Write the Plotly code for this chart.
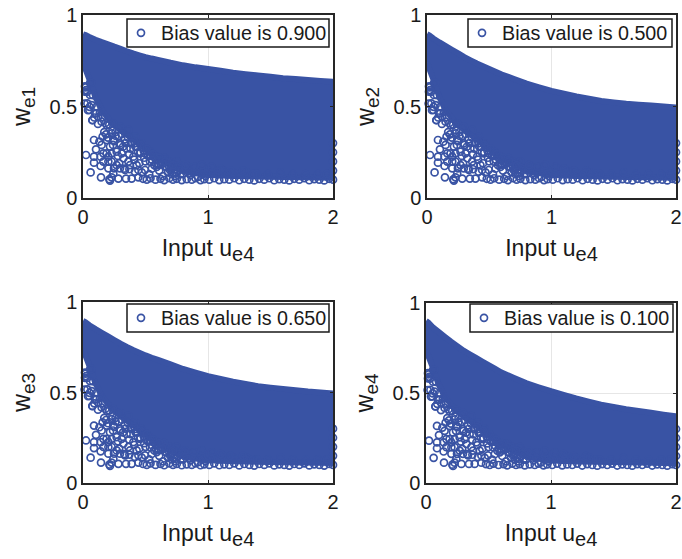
import plotly.graph_objects as go

COLOR = "#3953a4"
FONT = "Liberation Sans, Arial, sans-serif"
TEXT = "#1a1a1a"

bias_labels = ["Bias value is 0.900", "Bias value is 0.500", "Bias value is 0.650", "Bias value is 0.100"]
y_titles = ["e1", "e2", "e3", "e4"]
x_ticks = [0, 1, 2]
y_ticks = [0, 0.5, 1]
y_tick_text = ["0", "0.5", "1"]

# upper envelope of the point cloud, read per panel
env_x = [0, 0.02, 0.05, 0.1, 0.15, 0.2, 0.25, 0.3, 0.35, 0.4, 0.45, 0.5, 0.55, 0.6, 0.7, 0.8, 0.9, 1.0, 1.1, 1.2, 1.3, 1.4, 1.5, 1.6, 1.7, 1.8, 1.9, 2.0]
env_e1 = [0.895, 0.89, 0.88, 0.865, 0.852, 0.84, 0.827, 0.815, 0.802, 0.79, 0.78, 0.77, 0.762, 0.755, 0.739, 0.725, 0.714, 0.705, 0.695, 0.685, 0.677, 0.67, 0.662, 0.655, 0.65, 0.645, 0.64, 0.635]
env_e2 = [0.895, 0.888, 0.872, 0.85, 0.83, 0.81, 0.79, 0.77, 0.752, 0.735, 0.72, 0.705, 0.69, 0.675, 0.65, 0.625, 0.605, 0.585, 0.57, 0.555, 0.542, 0.53, 0.522, 0.515, 0.51, 0.505, 0.5, 0.495]
env_e3 = [0.895, 0.888, 0.872, 0.85, 0.83, 0.81, 0.79, 0.77, 0.752, 0.735, 0.72, 0.705, 0.692, 0.68, 0.655, 0.63, 0.61, 0.59, 0.575, 0.56, 0.547, 0.535, 0.527, 0.52, 0.512, 0.505, 0.5, 0.495]
env_e4 = [0.90, 0.89, 0.868, 0.84, 0.812, 0.785, 0.76, 0.735, 0.715, 0.695, 0.675, 0.655, 0.635, 0.615, 0.585, 0.555, 0.532, 0.51, 0.49, 0.47, 0.452, 0.435, 0.422, 0.41, 0.4, 0.39, 0.38, 0.37]

# lower edge of the solid part of the cloud
low_x = [2.0, 1.6, 1.2, 1.0, 0.85, 0.72, 0.6, 0.5, 0.4, 0.3, 0.22, 0.15, 0.1, 0.05, 0.0]
low_y = [0.11, 0.115, 0.12, 0.125, 0.14, 0.17, 0.22, 0.27, 0.32, 0.37, 0.42, 0.48, 0.55, 0.65, 0.74]

# individually visible circles below the solid part (same in all panels)
sparse_x = [0.024, 0.061, 0.144, 0.211, 0.229, 0.283, 0.344, 0.389, 0.216, 0.088, 0.131, 0.157, 0.104, 0.088,
            0.141, 0.088, 0.141, 0.203, 0.229, 0.203, 0.248, 0.243, 0.184, 0.149, 0.216, 0.269, 0.309, 0.323,
            0.363, 0.371, 0.416, 0.443, 0.075, 0.035, 0.069, 0.051, 0.024, 0.056, 0.016, 0.09, 0.12, 0.17,
            0.2, 0.25, 0.3, 0.34, 0.38, 0.28, 0.33, 0.41, 0.45, 0.5, 0.47, 0.53, 0.57, 0.61, 0.64, 0.68, 0.74,
            0.78, 0.42, 0.37, 0.29, 0.24, 0.46, 0.52, 0.55, 0.6, 0.66, 0.7, 0.76, 0.8, 0.86, 0.92, 0.98,
            0.48, 0.51, 0.54, 0.58, 0.62, 0.65, 0.69, 0.72, 0.75, 0.79, 0.83, 0.87, 0.9, 0.94, 0.97, 1.01,
            1.05, 1.09, 1.13, 1.17, 1.21, 1.25, 1.29, 1.33, 1.37, 1.41, 1.45, 1.49, 1.53, 1.57, 1.61, 1.65,
            1.69, 1.73, 1.77, 1.81, 1.85, 1.89, 1.93, 1.97, 2.0, 2.0, 2.0, 2.0, 2.0,
            0.163, 0.189, 0.229, 0.243, 0.296, 0.349, 0.416, 0.456, 0.496, 0.536, 0.563, 0.603, 0.403, 0.429,
            0.376, 0.443, 0.496, 0.336, 0.296, 0.269, 0.229, 0.189, 0.163, 0.203, 0.096, 0.123, 0.149, 0.189,
            0.243, 0.296, 0.363, 0.416, 0.469, 0.536, 0.589, 0.643, 0.696, 0.749, 0.056, 0.016,
            0.021, 0.067, 0.032, 0.08, 0.013, 0.053, 0.04, 0.075, 0.107,
            0.62, 0.67, 0.71, 0.73, 0.77, 0.81, 0.84, 0.88, 0.93, 0.96, 1.0, 1.04, 1.08, 1.12, 1.16, 1.2, 1.26, 1.31, 1.36,
            0.65, 0.69, 0.75, 0.82, 0.89, 0.95, 1.03, 1.1, 1.18, 1.28, 1.39, 1.48, 1.58, 1.68, 1.78, 1.88, 1.95,
            0.11, 0.135, 0.16, 0.18, 0.21, 0.235, 0.26, 0.285, 0.31, 0.335, 0.36, 0.385, 0.41, 0.435, 0.46, 0.485,
            0.51, 0.535, 0.56, 0.585, 0.61, 0.635, 0.66, 0.69, 0.72, 0.26, 0.32, 0.39, 0.44, 0.49, 0.55, 0.59]
sparse_y = [0.235, 0.14, 0.113, 0.102, 0.113, 0.106, 0.106, 0.106, 0.095, 0.317, 0.308, 0.335, 0.266, 0.226,
            0.226, 0.193, 0.175, 0.226, 0.199, 0.162, 0.162, 0.135, 0.348, 0.29, 0.281, 0.253, 0.244, 0.217,
            0.199, 0.157, 0.144, 0.113, 0.426, 0.517, 0.508, 0.481, 0.59, 0.628, 0.61, 0.44, 0.405, 0.36,
            0.33, 0.31, 0.29, 0.3, 0.27, 0.23, 0.16, 0.21, 0.19, 0.2, 0.14, 0.13, 0.18, 0.15, 0.12, 0.14, 0.12,
            0.13, 0.28, 0.24, 0.19, 0.29, 0.25, 0.23, 0.16, 0.19, 0.17, 0.16, 0.15, 0.13, 0.125, 0.115, 0.12,
            0.105, 0.1, 0.108, 0.1, 0.105, 0.098, 0.108, 0.1, 0.105, 0.098, 0.103, 0.1, 0.108, 0.098, 0.103, 0.1,
            0.108, 0.098, 0.103, 0.1, 0.108, 0.097, 0.105, 0.1, 0.096, 0.105, 0.1, 0.108, 0.097, 0.103, 0.1, 0.096,
            0.105, 0.1, 0.108, 0.097, 0.103, 0.1, 0.096, 0.105, 0.1, 0.15, 0.2, 0.25, 0.3,
            0.244, 0.317, 0.353, 0.317, 0.299, 0.271, 0.299, 0.244, 0.244, 0.199, 0.226, 0.18, 0.226, 0.18,
            0.18, 0.153, 0.153, 0.153, 0.162, 0.18, 0.244, 0.244, 0.199, 0.199, 0.463, 0.444, 0.417, 0.399,
            0.408, 0.39, 0.372, 0.335, 0.299, 0.253, 0.226, 0.189, 0.153, 0.135, 0.563, 0.581,
            0.604, 0.63, 0.58, 0.562, 0.516, 0.498, 0.48, 0.425, 0.462,
            0.19, 0.17, 0.13, 0.18, 0.16, 0.15, 0.17, 0.14, 0.15, 0.13, 0.15, 0.14, 0.13, 0.15, 0.13, 0.14, 0.13, 0.14, 0.13,
            0.22, 0.2, 0.2, 0.18, 0.17, 0.18, 0.17, 0.16, 0.15, 0.15, 0.13, 0.13, 0.14, 0.13, 0.13, 0.13, 0.13,
            0.5, 0.47, 0.44, 0.41, 0.4, 0.37, 0.36, 0.34, 0.35, 0.32, 0.33, 0.3, 0.31, 0.28, 0.29, 0.26,
            0.27, 0.23, 0.24, 0.21, 0.22, 0.19, 0.2, 0.17, 0.18, 0.34, 0.28, 0.3, 0.25, 0.22, 0.21, 0.17]

# panel placement, in pixels of the 682x559 page
W, H = 682, 559
panels = [
    dict(env=env_e1, x0=83, x1=333, top=15, bottom=198, bx0=127, bx1=329, by0=19, by1=47),
    dict(env=env_e2, x0=427, x1=676, top=15, bottom=198, bx0=468, bx1=672, by0=19, by1=47),
    dict(env=env_e3, x0=83, x1=333, top=302, bottom=483, bx0=127, bx1=329, by0=304, by1=332),
    dict(env=env_e4, x0=426, x1=676, top=303, bottom=483, bx0=470, bx1=673, by0=304, by1=332),
]

fig = go.Figure()
layout = dict(width=W, height=H, margin=dict(l=0, r=0, t=0, b=0, autoexpand=False), autosize=False,
              paper_bgcolor="white", plot_bgcolor="white", font=dict(family=FONT, size=20, color=TEXT))
shapes = []

for i, p in enumerate(panels):
    n = i + 1
    s = "" if n == 1 else str(n)
    xa, ya = "x" + s, "y" + s
    leg = "legend" + s
    fig.add_trace(go.Scatter(
        x=env_x + low_x, y=p["env"] + low_y, xaxis=xa, yaxis=ya, mode="lines", fill="toself",
        fillcolor=COLOR, line=dict(color=COLOR, width=6, simplify=False), showlegend=False,
        cliponaxis=False, hoverinfo="skip"))
    fig.add_trace(go.Scatter(
        x=sparse_x, y=sparse_y, xaxis=xa, yaxis=ya, mode="markers", name=bias_labels[i], legend=leg,
        marker=dict(symbol="circle-open", size=7, color=COLOR, line=dict(width=1.7, color=COLOR)),
        cliponaxis=False))
    axis_common = dict(showline=True, linecolor="#262626", linewidth=1.5, mirror="ticks", ticks="inside",
                       ticklen=3, tickcolor="#262626", showgrid=True, gridcolor="#e6e6e6", gridwidth=1,
                       zeroline=False, automargin=True, tickfont=dict(size=20, family=FONT, color=TEXT))
    layout["xaxis" + s] = dict(domain=[p["x0"] / W, p["x1"] / W], range=[0, 2], tickvals=x_ticks, anchor=ya,
                               title=dict(text='Input u<sub><span style="font-size:20px">e4</span></sub>',
                                          font=dict(size=23), standoff=13),
                               **axis_common)
    layout["yaxis" + s] = dict(domain=[1 - p["bottom"] / H, 1 - p["top"] / H], range=[0, 1], tickvals=y_ticks,
                               ticktext=y_tick_text, anchor=xa,
                               title=dict(text='w<sub><span style="font-size:19px">' + y_titles[i] + '</span></sub>',
                                          font=dict(size=25), standoff=12),
                               **axis_common)
    layout[leg] = dict(x=(p["bx0"] - 6) / W, y=1 - (p["by0"] + p["by1"]) / 2 / H, xanchor="left", yanchor="middle",
                       bgcolor="rgba(0,0,0,0)", borderwidth=0, font=dict(size=19.7, family=FONT, color=TEXT),
                       itemwidth=30, tracegroupgap=0)
    shapes.append(dict(type="rect", xref="paper", yref="paper", layer="above",
                       x0=p["bx0"] / W, x1=p["bx1"] / W, y0=1 - p["by1"] / H, y1=1 - p["by0"] / H,
                       fillcolor="white", line=dict(color="#1a1a1a", width=1.5)))

layout["shapes"] = shapes
fig.update_layout(**layout)
fig.write_html("out.html", config={"displayModeBar": False}, post_script="document.body.style.margin='0';")
